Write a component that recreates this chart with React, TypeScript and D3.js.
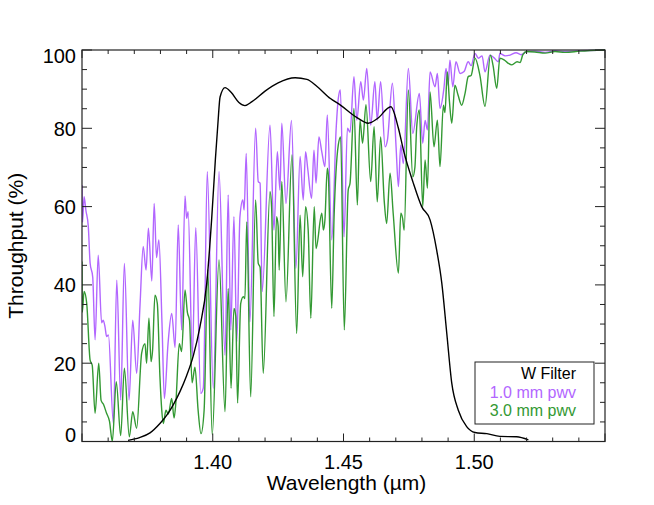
import React from "react";
import * as d3 from "d3";

const W = 654;
const H = 505;

// W filter transmission (wavelength µm, throughput %)
const filterW: [number, number][] = [
  [1.3676, 0.3], [1.372, 1.0], [1.376, 2.2], [1.3798, 4.6], [1.3825, 6.8], [1.385, 9.5], [1.3875, 12.8],
  [1.39, 16.8], [1.3926, 22], [1.3951, 29.3],
  [1.3977, 40.4], [1.3996, 57], [1.401, 72], [1.402, 81.5], [1.4028, 88], [1.4047, 90.4], [1.407, 89.2],
  [1.41, 86.6], [1.4123, 85.8], [1.415, 86.8], [1.42, 89.5], [1.425, 91.6], [1.4315, 92.9], [1.436, 92.5],
  [1.44, 90.6], [1.445, 87.6], [1.4487, 86], [1.455, 82.8], [1.4595, 81.3], [1.463, 82.5], [1.4681, 85.5],
  [1.471, 80], [1.4729, 74.5], [1.4767, 66], [1.4799, 60], [1.4831, 56.6], [1.4856, 49], [1.4876, 40.4],
  [1.4895, 27.6], [1.4914, 14.9], [1.4939, 8], [1.4971, 3.8], [1.5003, 2.3], [1.5048, 2.0], [1.5098, 1.3],
  [1.5162, 1.2], [1.5207, 0.4],
];

// Atmospheric transmission, 1.0 mm pwv
const pwv10: [number, number][] = [
  [1.35, 65.5], [1.3502, 56], [1.3508, 62.5], [1.3515, 59], [1.3524, 55], [1.3531, 45.6], [1.3541, 42],
  [1.355, 26], [1.3562, 47.6], [1.3575, 30.3], [1.3581, 31], [1.3588, 29.3], [1.3594, 26.8], [1.3601, 27.2],
  [1.362, 4.6], [1.3633, 41.2], [1.3648, 10.6], [1.3662, 45.5], [1.368, 10.6], [1.3694, 31], [1.3709, 17.4],
  [1.3722, 35], [1.3734, 49.8], [1.3745, 43.8], [1.3754, 54.5], [1.3767, 41], [1.3776, 60.8], [1.3785, 47],
  [1.3794, 51.5], [1.3806, 30], [1.3815, 11], [1.3829, 25], [1.3843, 32.7], [1.3856, 24], [1.3868, 55.3],
  [1.3881, 28.5], [1.3894, 62.7], [1.39, 57], [1.3906, 58.7], [1.3922, 21.7], [1.3935, 54.6], [1.3954, 12.3],
  [1.3964, 13.7], [1.3979, 68.9], [1.4002, 13.6], [1.4024, 68.9], [1.4047, 22], [1.4059, 63], [1.4069, 28.5],
  [1.4081, 57.4], [1.4092, 25.5], [1.4104, 57.4], [1.4115, 61.7], [1.412, 59.1], [1.4128, 73.6], [1.4142, 30.6],
  [1.4164, 80], [1.4174, 66.4], [1.4181, 66], [1.4189, 38.3], [1.4219, 80.8], [1.4234, 54], [1.4247, 74],
  [1.4257, 64.2], [1.4264, 81.3], [1.428, 60.8], [1.4301, 82], [1.4318, 44.2], [1.4334, 72.8], [1.4346, 61.7],
  [1.4355, 74], [1.4363, 69.8], [1.4378, 62.1], [1.4387, 74.4], [1.4395, 66], [1.4406, 77.8], [1.4417, 74],
  [1.4429, 70.2], [1.4438, 83.4], [1.4455, 51.5], [1.4472, 80], [1.448, 87.6], [1.4488, 89.8], [1.4502, 52.3],
  [1.4515, 80], [1.4525, 79], [1.454, 93.2], [1.4551, 82.1], [1.4566, 91.9], [1.4576, 87.2], [1.4589, 95.3],
  [1.4604, 80.8], [1.462, 91.9], [1.4629, 82.1], [1.4642, 91.9], [1.4659, 75.3], [1.4668, 77], [1.4687, 91.5],
  [1.4701, 75.3], [1.471, 65.1], [1.4719, 75.7], [1.4729, 71], [1.4748, 95.3], [1.4765, 78.7], [1.479, 88.9],
  [1.4803, 76.2], [1.4812, 82], [1.4821, 79.6], [1.4831, 94.4], [1.485, 90.6], [1.4859, 94], [1.4869, 85.1],
  [1.4884, 90.2], [1.4892, 95.3], [1.49, 91], [1.4907, 97.4], [1.4918, 90.6], [1.493, 97], [1.4946, 94],
  [1.4961, 94.5], [1.4977, 97], [1.4988, 96], [1.5003, 99.1], [1.5016, 97.9], [1.503, 98.5], [1.5041, 94.4],
  [1.506, 98.7], [1.5076, 98], [1.5092, 97], [1.5098, 99.1], [1.5118, 98.5], [1.5137, 98.7], [1.516, 99.3],
  [1.5179, 98.8], [1.5201, 99.6], [1.5232, 99.7], [1.5271, 99.4], [1.5309, 99.8], [1.5347, 99.6],
  [1.5404, 99.8], [1.55, 100],
];

// Atmospheric transmission, 3.0 mm pwv
const pwv30: [number, number][] = [
  [1.35, 46], [1.3501, 33], [1.3508, 38.3], [1.3518, 35.3], [1.3531, 20.8], [1.3539, 19.5], [1.355, 7.2],
  [1.3564, 20], [1.3573, 10.5], [1.3582, 9.5], [1.3594, 7.2], [1.3605, 5.2], [1.3616, 0], [1.3631, 15.3],
  [1.3648, 1.5], [1.3662, 18.7], [1.3681, 1.2], [1.3694, 7.6], [1.3709, 3.4], [1.3728, 22.5], [1.3741, 25],
  [1.3747, 20], [1.3756, 31.5], [1.3764, 20.4], [1.377, 23.4], [1.3779, 37.4], [1.3788, 35.3], [1.3798, 16.6],
  [1.3805, 8], [1.3811, 4.6], [1.3821, 8], [1.383, 7], [1.3843, 11], [1.3852, 6], [1.3859, 10], [1.3872, 25],
  [1.3881, 23], [1.3894, 38.7], [1.3903, 33], [1.3911, 31], [1.3921, 15], [1.3932, 19], [1.3944, 8],
  [1.3955, 2], [1.3967, 8], [1.3981, 43.8], [1.3998, 1.7], [1.4024, 46.4], [1.4047, 7.6], [1.4059, 39.1],
  [1.407, 13.6], [1.4081, 34], [1.4088, 32], [1.4095, 9.8], [1.4107, 35.3], [1.4117, 37], [1.4123, 36.5],
  [1.413, 56.1], [1.4145, 11.4], [1.4164, 61.7], [1.4174, 45.5], [1.4181, 44.5], [1.4193, 17.4], [1.4219, 63.8],
  [1.4225, 60], [1.4234, 31.9], [1.4244, 57.4], [1.425, 55], [1.4254, 43.8], [1.4264, 66.4], [1.428, 35.7],
  [1.4303, 73.2], [1.4321, 27.6], [1.4334, 57.8], [1.4344, 42.1], [1.4355, 60], [1.4365, 54], [1.4375, 31.5],
  [1.4388, 60], [1.4395, 49.3], [1.4417, 58.3], [1.4423, 54], [1.4429, 56.6], [1.4438, 69.8], [1.4442, 68],
  [1.4455, 34], [1.4464, 57.4], [1.448, 75.7], [1.4489, 77.8], [1.4503, 28.5], [1.4518, 64.2], [1.4525, 66],
  [1.454, 85.1], [1.4553, 60.4], [1.4563, 82.1], [1.4573, 76.2], [1.4586, 86], [1.4604, 66.4], [1.4617, 80.4],
  [1.4629, 61.2], [1.4642, 77.8], [1.4656, 61.2], [1.4665, 55.7], [1.4678, 68.5], [1.469, 58.3], [1.471, 43],
  [1.4719, 58.3], [1.4726, 57], [1.4732, 54], [1.4748, 89.8], [1.4765, 67.6], [1.4773, 70], [1.478, 80.4],
  [1.479, 84.7], [1.4803, 60], [1.4812, 71.9], [1.4821, 64.7], [1.4831, 89.3], [1.4846, 75.3], [1.4859, 82.1],
  [1.4869, 70.2], [1.4882, 85.9], [1.4888, 84], [1.4897, 94.4], [1.4905, 87], [1.4914, 81.3], [1.4926, 91],
  [1.4938, 88.5], [1.4952, 85.9], [1.4965, 89], [1.4977, 93.2], [1.4988, 93.5], [1.5003, 97.9], [1.5022, 93.4],
  [1.5041, 85.6], [1.5062, 98.7], [1.5072, 96], [1.5086, 90.2], [1.5098, 97.9], [1.5114, 97.5], [1.513, 96.6],
  [1.5144, 96.2], [1.5164, 97], [1.5175, 96.8], [1.5186, 98.8], [1.5201, 99.6], [1.5232, 99.5], [1.5271, 99.2],
  [1.5309, 99.6], [1.5347, 99.4], [1.5404, 99.7], [1.55, 100],
];

const xDomain: [number, number] = [1.35, 1.55];
const yDomain: [number, number] = [0, 100];
const xMajor = [1.35, 1.4, 1.45, 1.5, 1.55];
const xLabels = ["", "1.40", "1.45", "1.50", ""];
const yMajor = [0, 20, 40, 60, 80, 100];
const yLabels = ["0", "20", "40", "60", "80", "100"];
const legendItems = ["W Filter", "1.0 mm pwv", "3.0 mm pwv"];

const C_PURPLE = "#b266ff";
const C_GREEN = "#339933";
const C_BLACK = "#000000";
const AXIS = "#222222";
const FONT = "'Liberation Sans', Arial, Helvetica, sans-serif";

export default function App() {
  const left = 82, right = 605, top = 50, bottom = 441.5;
  const x = d3.scaleLinear().domain(xDomain).range([left, right]);
  const y = d3.scaleLinear().domain(yDomain).range([bottom, top]);

  const line = d3
    .line<[number, number]>()
    .x((d) => x(d[0]))
    .y((d) => y(d[1]))
    .curve(d3.curveMonotoneX);

  const xMinor = d3.range(0, 21).map((i) => 1.35 + i * 0.01);
  const yMinor = d3.range(0, 21).map((i) => i * 5);

  const yLabelDy = (v: number) => (v === 100 ? 6 : v === 0 ? -6.5 : 0.5);

  return (
    <svg
      width={W}
      height={H}
      viewBox={`0 0 ${W} ${H}`}
      style={{ position: "absolute", left: 0, top: 0, background: "#fff" }}
      fontFamily={FONT}
    >
      <rect x={0} y={0} width={W} height={H} fill="#fff" />
      <defs>
        <clipPath id="plotClip">
          <rect x={left} y={top - 1} width={right - left} height={bottom - top + 2} />
        </clipPath>
      </defs>

      <g clipPath="url(#plotClip)" fill="none">
        <path d={line(pwv10) || ""} stroke={C_PURPLE} strokeWidth={1.4} strokeLinejoin="round" />
        <path d={line(pwv30) || ""} stroke={C_GREEN} strokeWidth={1.4} strokeLinejoin="round" />
        <path d={line(filterW) || ""} stroke={C_BLACK} strokeWidth={1.4} />
      </g>

      {/* frame */}
      <rect x={left} y={top} width={right - left} height={bottom - top} fill="none" stroke={AXIS} strokeWidth={1.2} />

      {/* ticks */}
      <g stroke={AXIS} strokeWidth={1}>
        {xMinor.map((v, i) => {
          const major = i % 5 === 0;
          const len = major ? 8 : 4;
          const px = x(v);
          return (
            <g key={"xt" + i}>
              <line x1={px} x2={px} y1={bottom} y2={bottom - len} />
              <line x1={px} x2={px} y1={top} y2={top + len} />
            </g>
          );
        })}
        {yMinor.map((v, i) => {
          const major = i % 4 === 0;
          const len = major ? 10 : 5;
          const py = y(v);
          return (
            <g key={"yt" + i}>
              <line x1={left} x2={left + len} y1={py} y2={py} />
              <line x1={right} x2={right - len} y1={py} y2={py} />
            </g>
          );
        })}
      </g>

      {/* x tick labels */}
      <g fontSize={20} fill="#000" textAnchor="middle">
        {xMajor.map((v, i) =>
          xLabels[i] ? (
            <text key={"xl" + i} x={x(v)} y={469}>
              {xLabels[i]}
            </text>
          ) : null
        )}
      </g>

      {/* y tick labels */}
      <g fontSize={20} fill="#000" textAnchor="end">
        {yMajor.map((v, i) => (
          <text key={"yl" + i} x={76} y={y(v) + yLabelDy(v)} dominantBaseline="central">
            {yLabels[i]}
          </text>
        ))}
      </g>

      {/* axis titles */}
      <text x={346.5} y={490} fontSize={21} textAnchor="middle" fill="#000">
        Wavelength (µm)
      </text>
      <text
        x={0}
        y={0}
        fontSize={21}
        textAnchor="middle"
        fill="#000"
        transform={`translate(23, ${(top + bottom) / 2}) rotate(-90)`}
      >
        Throughput (%)
      </text>

      {/* legend */}
      <rect x={475} y={362} width={119} height={62} fill="#fff" stroke={AXIS} strokeWidth={1} />
      <g fontSize={16} textAnchor="end">
        {legendItems.map((t, i) => (
          <text key={"lg" + i} x={576} y={379 + i * 18.5} fill={[C_BLACK, C_PURPLE, C_GREEN][i]}>
            {t}
          </text>
        ))}
      </g>
    </svg>
  );
}
